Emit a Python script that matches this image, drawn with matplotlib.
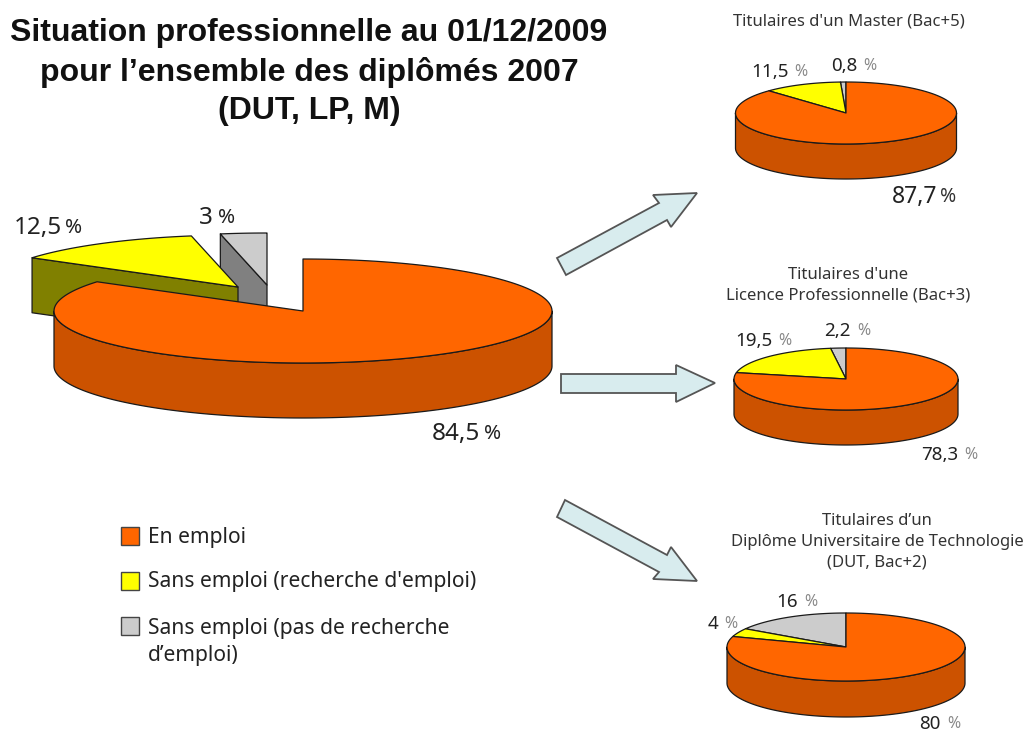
import numpy as np
import matplotlib
matplotlib.use('Agg')
import matplotlib.pyplot as plt
from matplotlib.patches import Polygon, Rectangle

plt.rcParams['font.family'] = ['Noto Sans', 'DejaVu Sans']

# shares, clockwise from 12 o'clock: en emploi, recherche, pas de recherche
ensemble = [84.5, 12.5, 3]
master = [87.7, 11.5, 0.8]
licence = [78.3, 19.5, 2.2]
dut = [80, 4, 16]

legend_labels = ['En emploi', "Sans emploi (recherche d'emploi)",
                 'Sans emploi (pas de recherche\nd\u2019emploi)']

title_text = 'Situation professionnelle au 01/12/2009\npour l\u2019ensemble des diplômés 2007\n(DUT, LP, M)'
master_title = "Titulaires d'un Master (Bac+5)"
licence_title = "Titulaires d'une\nLicence Professionnelle (Bac+3)"
dut_title = 'Titulaires d\u2019un\nDiplôme Universitaire de Technologie\n(DUT, Bac+2)'

top_colors = ['#FF6600', '#FFFF00', '#CCCCCC']
side_colors = ['#CC5200', '#808000', '#808080']
EDGE = '#1a1a1a'

fig = plt.figure(figsize=(10.25, 7.33), dpi=100)
ax = fig.add_axes([0, 0, 1, 1])
ax.set_xlim(0, 1025)
ax.set_ylim(733, 0)
ax.axis('off')


def rim(cx, cy, rx, ry, a0, a1):
    t = np.radians(np.linspace(a0, a1, 200))
    return np.column_stack([cx + rx * np.sin(t), cy - ry * np.cos(t)])


def shape(pts, color, z, lw=0.9):
    ax.add_patch(Polygon(pts, closed=True, fc=color, ec=EDGE, lw=lw, zorder=z, joinstyle='round'))


def wedge(center, rx, ry, depth, a0, a1, i, z, pulled):
    cx, cy = center
    # cut face that looks at the viewer, only for a wedge pulled out of the pie
    if pulled:
        p = rim(cx, cy, rx, ry, a0, a0)[0]
        shape(np.array([p, [cx, cy], [cx, cy + depth], [p[0], p[1] + depth]]), side_colors[i], z)
    lo, hi = max(a0, 90), min(a1, 270)
    if hi > lo:
        arc = rim(cx, cy, rx, ry, lo, hi)
        shape(np.vstack([arc, arc[::-1] + [0, depth]]), side_colors[i], z)
    shape(np.vstack([[cx, cy], rim(cx, cy, rx, ry, a0, a1)]), top_colors[i], z + 0.5)


def pie3d(values, centers, rx, ry, depth):
    edges = np.concatenate([[0], np.cumsum(values)]) * 360 / sum(values)
    for z, i in enumerate([2, 1, 0]):
        pulled = centers[i] != centers[0]
        wedge(centers[i], rx, ry, depth, edges[i], edges[i + 1], i, 2 + z, pulled)


def pct(x, y, num, size, gap, pct_color='#222222', ratio=0.85):
    ax.text(x, y, num, ha='right', va='center', fontsize=size, color='#222222', zorder=10)
    ax.text(x + gap, y, '%', ha='left', va='center', fontsize=size * ratio, color=pct_color, zorder=10)


pie3d(ensemble, [(303, 311), (238, 287), (267, 285)], 249, 52, 55)
pie3d(master, [(846, 113)] * 3, 110.5, 31, 35)
pie3d(licence, [(846, 379)] * 3, 112, 31, 35)
pie3d(dut, [(846, 647)] * 3, 119, 34, 36)

# arrows
arrow_color = '#D8ECEE'
arrow_edge = '#555555'
arrow_up = [(557, 258), (659, 203), (653, 195), (697, 193), (671, 227), (667, 220), (566, 275)]
arrow_mid = [(561, 374), (676, 374), (676, 365), (715, 383), (676, 402), (676, 393), (561, 393)]
arrow_down = [(565, 500), (667, 555), (671, 547), (697, 581), (653, 579), (659, 572), (557, 517)]
for a in [arrow_up, arrow_mid, arrow_down]:
    ax.add_patch(Polygon(a, closed=True, fc=arrow_color, ec=arrow_edge, lw=1.3, zorder=5))

# labels
ax.text(309, 72, title_text, ha='center', va='center', fontsize=23, fontweight='bold',
        family='Liberation Sans', color='#111111', linespacing=1.38)

pct(62, 228, '12,5', 17.5, 3)
pct(213, 218, '3', 17.5, 5)
pct(480, 434, '84,5', 17.5, 4)

GREY = '#888888'
ax.text(849, 21, master_title, ha='center', va='center', fontsize=12, color='#333333')
pct(789, 72, '11,5', 13.5, 5, pct_color=GREY)
pct(857, 66, '0,8', 13.5, 6, pct_color=GREY)
pct(937, 197, '87,7', 16.5, 3, pct_color='#333333')

ax.text(848, 285, licence_title, ha='center', va='center', fontsize=12, color='#333333', linespacing=1.4)
pct(773, 341, '19,5', 13.5, 5, pct_color=GREY)
pct(851, 331, '2,2', 13.5, 6, pct_color=GREY)
pct(958, 455, '78,3', 13.5, 6, pct_color=GREY)

ax.text(877, 542, dut_title, ha='center', va='center', fontsize=12, color='#333333', linespacing=1.4)
pct(798, 602, '16', 13.5, 6, pct_color=GREY)
pct(718, 624, '4', 13.5, 6, pct_color=GREY)
pct(941, 724, '80', 13.5, 6, pct_color=GREY)

# legend
swatch_y = [527, 572, 617]
text_y = [537, 582, 642]
for i in range(3):
    ax.add_patch(Rectangle((121, swatch_y[i]), 18, 18, fc=top_colors[i], ec='#444444', lw=1, zorder=5))
    ax.text(148, text_y[i], legend_labels[i], ha='left', va='center', fontsize=15.1,
            color='#222222', linespacing=1.35)

fig.savefig('out.png', dpi=100)
